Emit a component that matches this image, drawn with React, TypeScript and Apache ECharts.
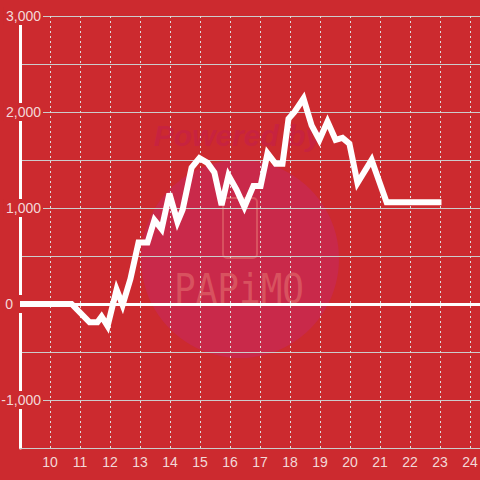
import React, { useEffect, useRef } from "react";
import * as echarts from "echarts";

// Time in hours (x) and balance (y)
const hours = [
  9.0, 10.72, 11.32, 11.58, 11.72, 11.92, 12.22, 12.42, 12.68, 12.95, 13.25, 13.48,
  13.72, 13.98, 14.25, 14.42, 14.72, 14.98, 15.25, 15.48, 15.72, 15.95, 16.22, 16.48,
  16.78, 17.02, 17.25, 17.52, 17.75, 17.95, 18.15, 18.45, 18.72, 18.98, 19.25, 19.52,
  19.75, 19.98, 20.25, 20.72, 21.22, 23.05,
];
const values = [
  0, 0, -190, -190, -130, -230, 150, -10, 260, 640, 640, 875,
  780, 1150, 855, 980, 1420, 1520, 1470, 1370, 1030, 1340, 1190, 1010,
  1230, 1230, 1570, 1460, 1460, 1930, 2000, 2140, 1860, 1710, 1900, 1710,
  1730, 1670, 1260, 1500, 1060, 1060,
];
const xTickLabels = [10, 11, 12, 13, 14, 15, 16, 17, 18, 19, 20, 21, 22, 23, 24];
const yTickLabels = [-1000, 0, 1000, 2000, 3000];

const BG = "#cc2a2f";
const LABEL = "#f3d8d8";

export default function App() {
  const ref = useRef<HTMLDivElement>(null);
  useEffect(() => {
    if (!ref.current) return;
    const chart = echarts.init(ref.current, null, { renderer: "svg" });
    const near = (a: number, b: number) => Math.abs(a - b) < 1e-6;
    chart.setOption({
      animation: false,
      backgroundColor: BG,
      textStyle: { fontFamily: "Liberation Sans, Arial, sans-serif" },
      grid: {
        left: 20,
        right: 0,
        top: 16,
        bottom: 32,
        containLabel: false,
        outerBoundsMode: "none",
      },
      graphic: [
        {
          type: "circle",
          z: -10,
          shape: { cx: 240, cy: 259, r: 99 },
          style: { fill: "#c9294a" },
        },
        {
          type: "text",
          z: -9,
          x: 238,
          y: 135,
          style: {
            text: "Powered by",
            font: "italic bold 30px Liberation Sans, Arial, sans-serif",
            fill: "#c7233f",
            align: "center",
            verticalAlign: "middle",
            textAlign: "center",
            textVerticalAlign: "middle",
          },
        },
        {
          type: "rect",
          z: -9,
          shape: { x: 223, y: 198, width: 34, height: 60, r: 4 },
          style: { fill: "none", stroke: "#d8525f", lineWidth: 2 },
        },
        {
          type: "text",
          z: -9,
          x: 239,
          y: 289,
          scaleX: 0.9,
          style: {
            text: "PAPiMO",
            font: "40px DejaVu Sans Mono, monospace",
            fill: "#d8525f",
            align: "center",
            verticalAlign: "middle",
            textAlign: "center",
            textVerticalAlign: "middle",
          },
        },
      ],
      xAxis: {
        type: "value",
        min: 9,
        max: 24.3334,
        interval: 1,
        axisLine: { show: true, onZero: false, lineStyle: { color: "#cccccc", width: 1 } },
        axisTick: { show: false },
        splitLine: {
          show: true,
          showMinLine: false,
          showMaxLine: false,
          lineStyle: { color: "#dddddd", type: [2, 3], width: 1 },
        },
        axisLabel: {
          color: LABEL,
          fontSize: 14,
          margin: 7,
          formatter: (v: number) => {
            const t = xTickLabels.find((x) => near(x, v));
            return t === undefined ? "" : String(t);
          },
        },
      },
      yAxis: {
        type: "value",
        min: -1500,
        max: 3000,
        interval: 500,
        axisLine: { show: true, lineStyle: { color: "#ffffff", width: 3 } },
        axisTick: { show: false },
        splitLine: { show: true, lineStyle: { color: "#cccccc", width: 1 } },
        axisLabel: {
          color: LABEL,
          fontSize: 14,
          margin: -23,
          backgroundColor: BG,
          padding: [2, 2, 2, 2],
          formatter: (v: number) => {
            const t = yTickLabels.find((y) => near(y, v));
            if (t === undefined) return "";
            if (t === 0) return "{z|0}";
            return t.toLocaleString("en-US");
          },
          rich: {
            z: { padding: [0, 28, 0, 0], fontSize: 14, color: LABEL },
          },
        },
      },
      series: [
        {
          type: "line",
          data: hours.map((h, i) => [h, values[i]]),
          showSymbol: false,
          symbol: "none",
          lineStyle: { color: "#ffffff", width: 6, join: "miter" },
          markLine: {
            silent: true,
            symbol: ["none", "none"],
            label: { show: false },
            lineStyle: { color: "#ffffff", width: 3, type: "solid" },
            data: [{ yAxis: 0 }],
          },
        },
      ],
    });
    return () => chart.dispose();
  }, []);
  return (
    <div
      ref={ref}
      style={{ position: "fixed", left: 0, top: 0, width: 480, height: 480 }}
    />
  );
}
